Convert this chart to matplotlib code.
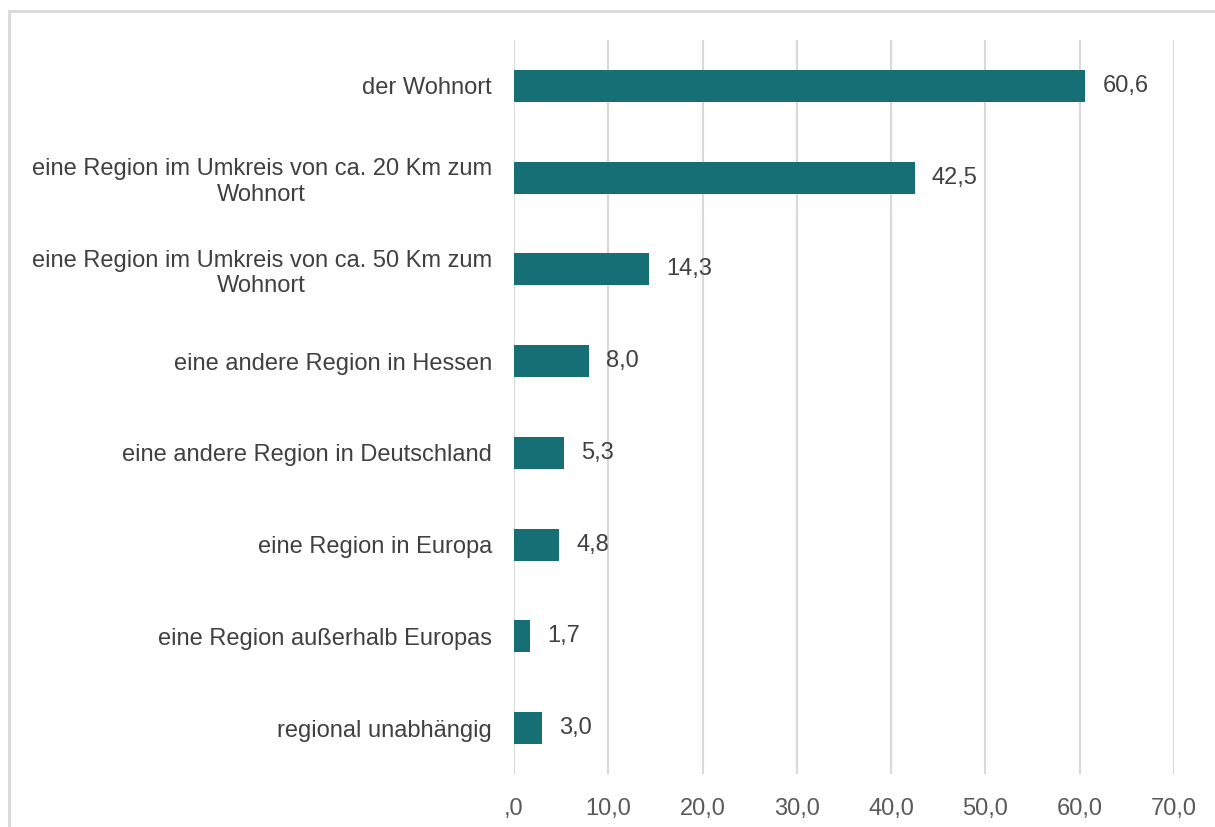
import numpy as np
from matplotlib import pyplot as plt
import matplotlib.patches as patches

# data
categories = ['der Wohnort',
              'eine Region im Umkreis von ca. 20 Km zum\nWohnort',
              'eine Region im Umkreis von ca. 50 Km zum\nWohnort',
              'eine andere Region in Hessen',
              'eine andere Region in Deutschland',
              'eine Region in Europa',
              'eine Region außerhalb Europas',
              'regional unabhängig']
values = [60.6, 42.5, 14.3, 8.0, 5.3, 4.8, 1.7, 3.0]
xticks = [0, 10, 20, 30, 40, 50, 60, 70]
xtick_labels = [',0', '10,0', '20,0', '30,0', '40,0', '50,0', '60,0', '70,0']

plt.rcParams['font.family'] = ['Liberation Sans', 'DejaVu Sans']

W, H = 1215, 827
fig = plt.figure(figsize=(W / 100, H / 100), dpi=100)

# outer frame (cut off at right/bottom edges)
fig.add_artist(patches.Rectangle((9 / W, -0.1), 1.2, 1 - 11 / H + 0.1, transform=fig.transFigure,
                                 fill=False, edgecolor='#D9D9D9', linewidth=2))

ax = fig.add_axes([514 / W, 1 - 774 / H, (1174 - 514) / W, (774 - 40) / H])
y = np.arange(len(categories))
ax.barh(y, values, height=0.35, color='#156F74', zorder=3)
for yi, v in zip(y, values):
    ax.text(v + 1.8, yi, f'{v:.1f}'.replace('.', ','), va='center', ha='left',
            fontsize=17, color='#404040')

ax.set_xlim(0, 70)
ax.set_ylim(len(categories) - 0.5, -0.5)
ax.set_yticks(y)
ax.set_yticklabels(categories, fontsize=17, color='#404040', ha='right', multialignment='center')
ax.set_xticks(xticks)
ax.set_xticklabels(xtick_labels, fontsize=17, color='#595959')
ax.tick_params(length=0)
ax.tick_params(axis='y', pad=16)
ax.tick_params(axis='x', pad=17)
ax.grid(axis='x', color='#D9D9D9', linewidth=1.5, zorder=0)
for s in ax.spines.values():
    s.set_visible(False)

fig.savefig('out.png', dpi=100)
